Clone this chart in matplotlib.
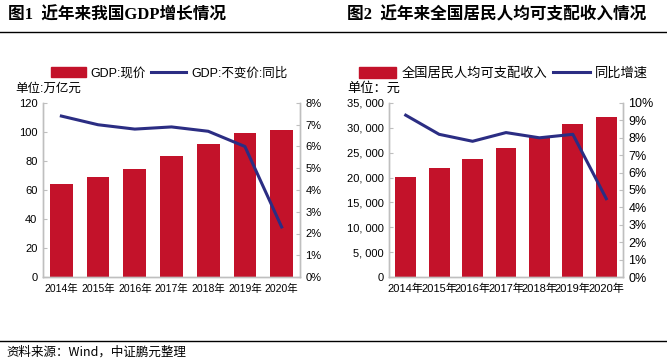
import matplotlib.pyplot as plt
from matplotlib.lines import Line2D
from matplotlib.ticker import FuncFormatter

plt.rcParams['font.family'] = ['Liberation Sans', 'Noto Sans CJK SC', 'DejaVu Sans']

# 数据
years = ['2014年', '2015年', '2016年', '2017年', '2018年', '2019年', '2020年']
gdp_nominal = [64.4, 68.9, 74.6, 83.2, 91.9, 99.0, 101.6]
gdp_real_yoy = [7.4, 7.0, 6.8, 6.9, 6.7, 6.0, 2.3]
income = [20167, 21966, 23821, 25974, 28228, 30733, 32189]
income_yoy = [9.3, 8.2, 7.8, 8.3, 8.0, 8.2, 4.5]

red = '#c3122a'
navy = '#2b2d83'
gray = '#bfbfbf'

fig = plt.figure(figsize=(6.67, 3.64), dpi=100)


def style_axes(ax, ax2):
    for a in (ax, ax2):
        a.spines['top'].set_visible(False)
        for s in ('left', 'right', 'bottom'):
            a.spines[s].set_color(gray)
            a.spines[s].set_linewidth(1)
        a.tick_params(axis='y', direction='in', length=3, color=gray, labelsize=8, pad=4)
        a.tick_params(axis='x', length=0, labelsize=7.5, pad=5)
    ax.set_xlim(-0.5, len(years) - 0.5)


# 图1
ax1 = fig.add_axes([43 / 667, 1 - 277 / 364, 257 / 667, 174 / 364])
ax1b = ax1.twinx()
ax1.bar(years, gdp_nominal, width=0.62, color=red, label='GDP:现价')
ax1b.plot(years, gdp_real_yoy, color=navy, lw=2.2, label='GDP:不变价:同比')
ax1.set_ylim(0, 120)
ax1.set_yticks(range(0, 121, 20))
ax1b.set_ylim(0, 8)
ax1b.set_yticks(range(0, 9))
ax1b.yaxis.set_major_formatter(FuncFormatter(lambda v, p: f'{v:.0f}%'))
style_axes(ax1, ax1b)
h1 = [plt.Rectangle((0, 0), 1, 1, color=red), Line2D([], [], color=navy, lw=2.2)]
ax1.legend(h1, ['GDP:现价', 'GDP:不变价:同比'], loc='center', bbox_to_anchor=(0.49, 1.172),
           ncol=2, frameon=False, fontsize=9, handlelength=2.8, handleheight=0.9,
           columnspacing=0.4, handletextpad=0.4)
fig.text(15 / 667, 1 - 89 / 364, '单位:万亿元', fontsize=9, va='center')

# 图2
ax2 = fig.add_axes([389 / 667, 1 - 277 / 364, 234 / 667, 174 / 364])
ax2b = ax2.twinx()
ax2.bar(years, income, width=0.62, color=red)
ax2b.plot(years, income_yoy, color=navy, lw=2.2)
ax2.set_ylim(0, 35000)
ax2.set_yticks(range(0, 35001, 5000))
ax2.yaxis.set_major_formatter(FuncFormatter(lambda v, p: f'{v:,.0f}'.replace(',', ', ')))
ax2b.set_ylim(0, 10)
ax2b.set_yticks(range(0, 11))
ax2b.yaxis.set_major_formatter(FuncFormatter(lambda v, p: f'{v:.0f}%'))
style_axes(ax2, ax2b)
ax2b.tick_params(axis='y', labelsize=9)
ax2.tick_params(axis='x', labelsize=8)
h2 = [plt.Rectangle((0, 0), 1, 1, color=red), Line2D([], [], color=navy, lw=2.2)]
ax2.legend(h2, ['全国居民人均可支配收入', '同比增速'], loc='center', bbox_to_anchor=(0.49, 1.172),
           ncol=2, frameon=False, fontsize=9.5, handlelength=2.8, handleheight=0.9,
           columnspacing=0.4, handletextpad=0.4)
fig.text(347 / 667, 1 - 88 / 364, '单位：元', fontsize=9.5, va='center')

# 标题与分隔线
title_font = ['Liberation Serif', 'Noto Sans CJK SC']
fig.text(8 / 667, 1 - 15 / 364, '图1  近年来我国GDP增长情况', fontsize=12, fontweight='bold',
         family=title_font, va='center')
fig.text(347 / 667, 1 - 15 / 364, '图2  近年来全国居民人均可支配收入情况', fontsize=12,
         fontweight='bold', family=title_font, va='center')
fig.add_artist(Line2D([0, 1], [1 - 32 / 364, 1 - 32 / 364], color='black', lw=1))
fig.add_artist(Line2D([0, 1], [1 - 341 / 364, 1 - 341 / 364], color='black', lw=1))
fig.text(6 / 667, 1 - 352 / 364, '资料来源：Wind，中证鹏元整理', fontsize=9,
         family=['Noto Sans CJK SC'], va='center')

fig.savefig('out.png', dpi=100)
